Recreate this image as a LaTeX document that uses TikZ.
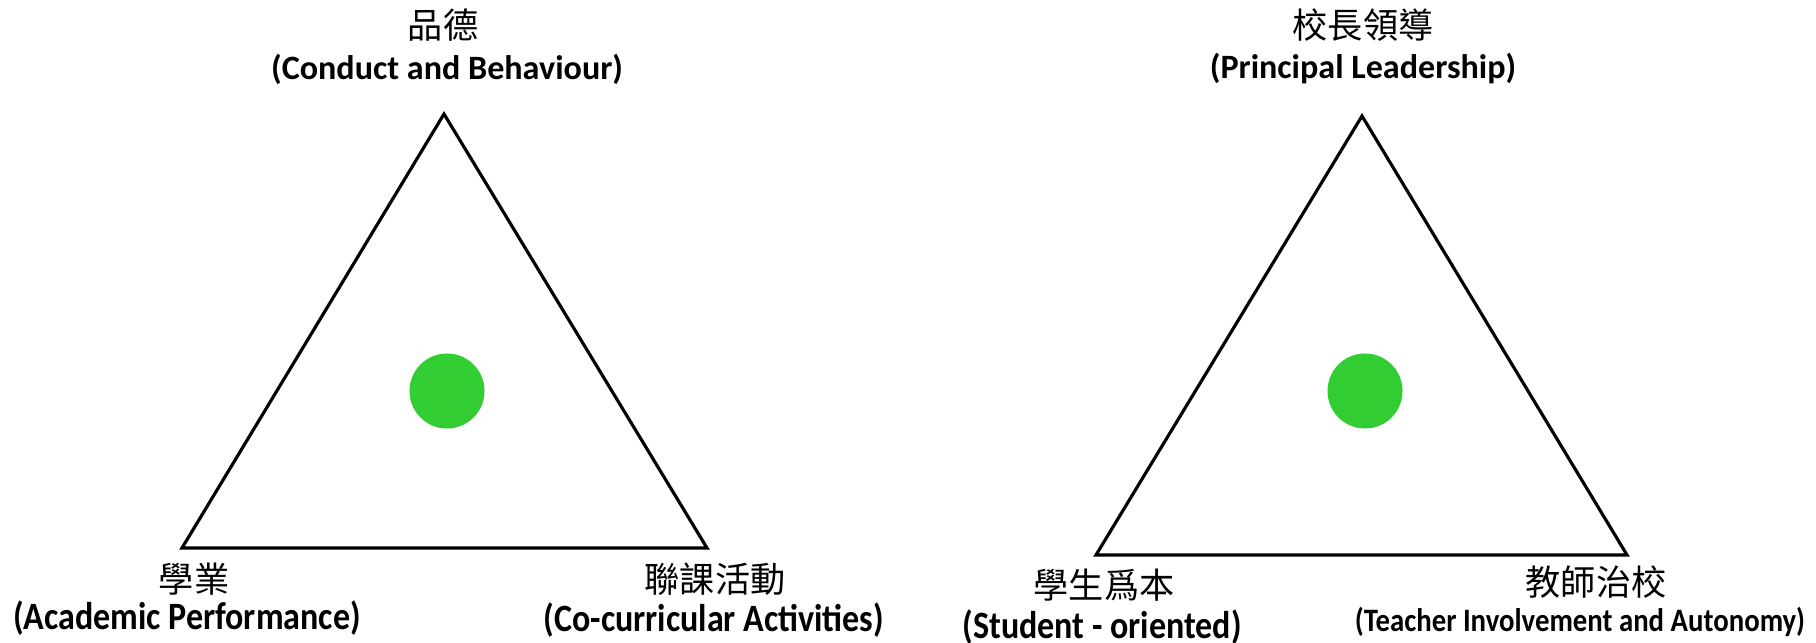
\documentclass[tikz,border=0pt]{standalone}
\usepackage{fontspec}
\setmainfont{Carlito}
\newfontfamily\cjk{Noto Sans CJK TC}
\usetikzlibrary{calc}
\definecolor{dotgreen}{RGB}{50,205,50}
\newcommand\narrowtext[2][0.88]{\scalebox{#1}[1]{#2}}
\tikzset{
    tri/.style={draw=black, line width=0.9pt},
    dot/.style={circle, fill=dotgreen, minimum size=0.75cm, inner sep=0pt},
    zh/.style={font=\cjk\fontsize{10}{12}\selectfont, inner sep=0pt},
    entop/.style={font=\bfseries\fontsize{9.7}{12}\selectfont, inner sep=0pt},
    enbot/.style={font=\bfseries\fontsize{11}{13}\selectfont, inner sep=0pt},
}

\begin{document}
\begin{tikzpicture}[x=0.01cm, y=-0.01cm]
    \useasboundingbox (0,0) rectangle (1816,643);
    % left triangle
    \coordinate (ltop) at (444,114);
    \coordinate (lleft) at (182,548);
    \coordinate (lright) at (707,548);
    \draw [tri] (ltop) -- (lleft) -- (lright) -- cycle;
    \node [dot] (ldot) at (447,391) {};
    % labels
    \node [zh] (ltopzh) at (443,25) {品德};
    \node [entop] (ltopen) at (447,69) {(Conduct and Behaviour)};
    \node [zh] (lleftzh) at (194,579) {學業};
    \node [enbot] (lleften) at (187,618) {\narrowtext{(Academic Performance)}};
    \node [zh] (lrightzh) at (715,579) {聯課活動};
    \node [enbot] (lrighten) at (714,620) {\narrowtext{(Co-curricular Activities)}};
    % right triangle
    \coordinate (rtop) at (1362,116);
    \coordinate (rleft) at (1096,555);
    \coordinate (rright) at (1627,555);
    \draw [tri] (rtop) -- (rleft) -- (rright) -- cycle;
    \node [dot] (rdot) at (1365,391) {};
    % labels
    \node [zh] (rtopzh) at (1363,25) {校長領導};
    \node [entop] (rtopen) at (1363,69) {(Principal Leadership)};
    \node [zh] (rleftzh) at (1104,585) {學生爲本};
    \node [enbot] (rleften) at (1102,627) {\narrowtext{(Student - oriented)}};
    \node [zh] (rrightzh) at (1596,582) {教師治校};
    \node [enbot, font=\bfseries\fontsize{9.3}{11}\selectfont] (rrighten) at (1580,622) {\narrowtext{(Teacher Involvement and Autonomy)}};
\end{tikzpicture}
\end{document}
